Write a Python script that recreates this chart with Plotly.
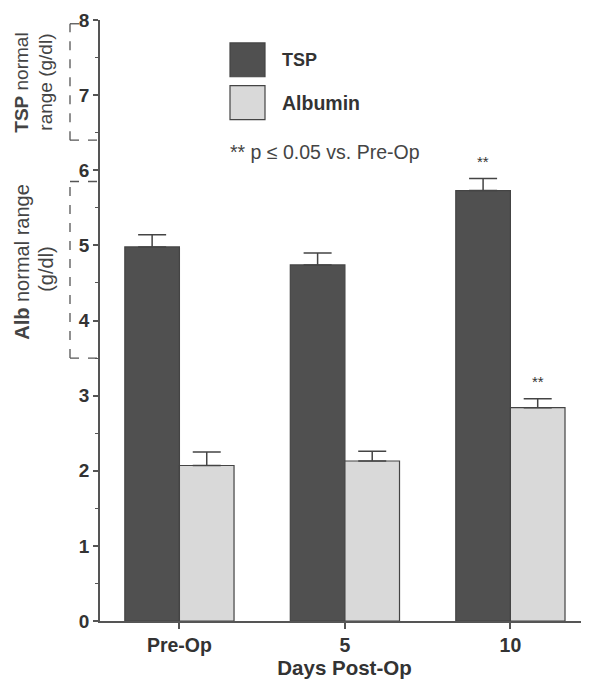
import plotly.graph_objects as go

categories = ["Pre-Op", "5", "10"]
tsp = [4.98, 4.74, 5.73]
tsp_err = [0.16, 0.16, 0.16]
alb = [2.07, 2.13, 2.84]
alb_err = [0.18, 0.13, 0.12]
sig_tsp = ["", "", "**"]
sig_alb = ["", "", "**"]
tsp_range = [6.4, 7.95]
alb_range = [3.5, 5.85]
y_ticks = [0, 1, 2, 3, 4, 5, 6, 7, 8]

FONT = "Liberation Sans, Arial, sans-serif"
DARK = "#505050"
LIGHT = "#d9d9d9"
EDGE = "#444444"

PW = 489.0  # plot width in px
def px(x):
    return (x - 100) / PW

fig = go.Figure()
fig.add_trace(go.Bar(
    x=categories, y=tsp, name="TSP",
    marker=dict(color=DARK, line=dict(color=EDGE, width=1.2)),
    error_y=dict(type="data", symmetric=False, array=tsp_err, arrayminus=[0]*3,
                 color=EDGE, thickness=1.5, width=14),
))
fig.add_trace(go.Bar(
    x=categories, y=alb, name="Albumin",
    marker=dict(color=LIGHT, line=dict(color=EDGE, width=1.2)),
    error_y=dict(type="data", symmetric=False, array=alb_err, arrayminus=[0]*3,
                 color=EDGE, thickness=1.5, width=14),
))

ann = []
for i, c in enumerate(categories):
    if sig_tsp[i]:
        ann.append(dict(x=i - 0.165, y=tsp[i] + tsp_err[i], xref="x", yref="y",
                        text=sig_tsp[i], showarrow=False, yshift=17,
                        xanchor="center", yanchor="middle",
                        font=dict(family=FONT, size=15, color="#333")))
    if sig_alb[i]:
        ann.append(dict(x=i + 0.165, y=alb[i] + alb_err[i], xref="x", yref="y",
                        text=sig_alb[i], showarrow=False, yshift=17,
                        xanchor="center", yanchor="middle",
                        font=dict(family=FONT, size=15, color="#333")))

# legend (manual)
shapes = [
    dict(type="rect", xref="paper", yref="paper", x0=px(230), x1=px(265), y0=0.9056, y1=0.9619,
         fillcolor=DARK, line=dict(color=EDGE, width=1.2)),
    dict(type="rect", xref="paper", yref="paper", x0=px(230), x1=px(265), y0=0.8344, y1=0.8907,
         fillcolor=LIGHT, line=dict(color=EDGE, width=1.2)),
]
ann += [
    dict(x=px(280), y=0.9338, xref="paper", yref="paper", text="<b>TSP</b>", showarrow=False,
         xanchor="left", yanchor="middle", font=dict(family=FONT, size=18, color="#333")),
    dict(x=px(280), y=0.8626, xref="paper", yref="paper", text="<b>Albumin</b>", showarrow=False,
         xanchor="left", yanchor="middle", font=dict(family=FONT, size=19.5, color="#333")),
    dict(x=px(228), y=0.7798, xref="paper", yref="paper", text="** p ≤ 0.05 vs. Pre-Op", showarrow=False,
         xanchor="left", yanchor="middle", font=dict(family=FONT, size=19.5, color="#444")),
]

# normal range brackets
xl = px(70)
dash = dict(color="#555", width=1.3, dash="dash")
for (lo, hi), top_end, bot_end in [(tsp_range, px(80), px(97)), (alb_range, 0.0, 0.0)]:
    shapes.append(dict(type="line", xref="paper", yref="y", x0=xl, x1=xl, y0=lo, y1=hi, line=dash))
    shapes.append(dict(type="line", xref="paper", yref="y", x0=xl, x1=top_end, y0=hi, y1=hi, line=dash))
    shapes.append(dict(type="line", xref="paper", yref="y", x0=xl, x1=bot_end, y0=lo, y1=lo, line=dash))

# y-axis titles
title_font = dict(family=FONT, size=19, color="#444")
title_font2 = dict(family=FONT, size=20, color="#444")
ann += [
    dict(x=px(22), y=0.8957, xref="paper", yref="paper", text="<b>TSP</b> normal", textangle=-90,
         xanchor="center", yanchor="middle", showarrow=False, font=title_font),
    dict(x=px(46), y=0.8957, xref="paper", yref="paper", text="range (g/dl)", textangle=-90,
         xanchor="center", yanchor="middle", showarrow=False, font=title_font),
    dict(x=px(22), y=0.5977, xref="paper", yref="paper", text="<b>Alb</b> normal range", textangle=-90,
         xanchor="center", yanchor="middle", showarrow=False, font=title_font2),
    dict(x=px(46), y=0.586, xref="paper", yref="paper", text="(g/dl)", textangle=-90,
         xanchor="center", yanchor="middle", showarrow=False, font=title_font2),
]

fig.update_layout(
    width=581, height=677,
    margin=dict(l=92, r=0, t=12, b=64),
    paper_bgcolor="white", plot_bgcolor="white",
    barmode="group", bargap=0.34, bargroupgap=0,
    showlegend=False,
    shapes=shapes, annotations=ann,
    xaxis=dict(range=[-0.48, 2.475], showline=True, linecolor="#555", linewidth=1.5,
               automargin=False,
               ticks="outside", ticklen=6, tickwidth=1.5, tickcolor="#555",
               tickfont=dict(family=FONT, size=19.5, color="#333"),
               tickvals=[0, 1, 2], ticktext=["<b>" + c + "</b>" for c in categories],
               title=dict(text="<b>Days Post-Op</b>", font=dict(family=FONT, size=20.5, color="#333"),
                          standoff=2),
               showgrid=False, zeroline=False),
    yaxis=dict(range=[0, 8], showline=True, linecolor="#555", linewidth=1.5,
               automargin=False,
               tickvals=y_ticks, ticktext=["<b>%d</b>" % v for v in y_ticks],
               ticks="outside", ticklen=5, tickwidth=1.5, tickcolor="#555",
               minor=dict(dtick=0.5, ticks="outside", ticklen=3, tickwidth=1.2, tickcolor="#555"),
               tickfont=dict(family=FONT, size=19, color="#333"),
               showgrid=False, zeroline=False),
)

fig.write_html("out.html")
